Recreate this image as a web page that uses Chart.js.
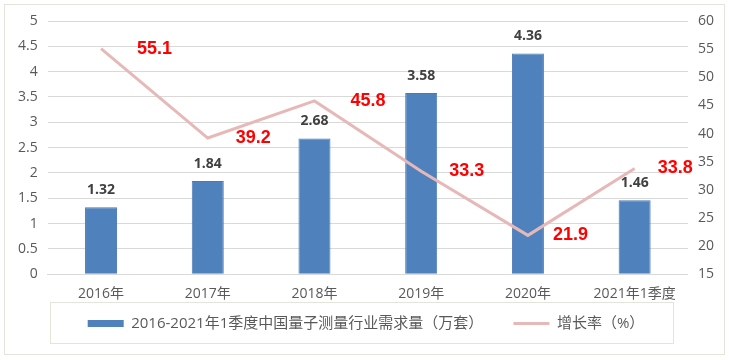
<!DOCTYPE html>
<html>
<head>
<meta charset="utf-8">
<script src="https://cdn.jsdelivr.net/npm/chart.js@4"></script>
<style>
  body { margin: 0; background: #ffffff; }
  #wrap { width: 729px; height: 360px; }
</style>
</head>
<body>
<div id="wrap"><canvas id="chart" width="729" height="360"></canvas></div>
<script>
// categories and series
const categories = ["2016年", "2017年", "2018年", "2019年", "2020年", "2021年1季度"];
const demand = [1.32, 1.84, 2.68, 3.58, 4.36, 1.46];
const growth = [55.1, 39.2, 45.8, 33.3, 21.9, 33.8];
const demandLabel = "2016-2021年1季度中国量子测量行业需求量（万套）";
const growthLabel = "增长率（%）";

// how far right of its point each growth label sits (px)
const growthLabelDx = [36, 28, 36, 28, 25, 23];

const FONT = "'Open Sans', 'Noto Sans CJK SC', sans-serif";

// outer frame + box round the legend
const framePlugin = {
    id: "frame",
    beforeDraw(chart) {
        const ctx = chart.ctx;
        ctx.save();
        ctx.strokeStyle = "#e4e4da";
        ctx.lineWidth = 1;
        ctx.strokeRect(4.5, 4.5, 720, 350);
        ctx.restore();
    },
    afterDraw(chart) {
        const lg = chart.legend;
        const ctx = chart.ctx;
        ctx.save();
        ctx.strokeStyle = "#e4e4da";
        ctx.lineWidth = 1;
        ctx.strokeRect(50.5, lg.top - 2.5, 623, lg.bottom - lg.top + 5);
        ctx.restore();
    }
};

// value labels: bars above, line to the right of each point
const labelPlugin = {
    id: "valueLabels",
    afterDatasetsDraw(chart) {
        const ctx = chart.ctx;
        ctx.save();
        const bars = chart.getDatasetMeta(0).data;
        ctx.font = "bold 14px " + FONT;
        ctx.fillStyle = "#404040";
        ctx.textAlign = "center";
        ctx.textBaseline = "alphabetic";
        bars.forEach((b, i) => ctx.fillText(demand[i].toFixed(2), b.x, b.y - 13));

        const pts = chart.getDatasetMeta(1).data;
        ctx.font = "bold 18px 'Liberation Sans', Arial, sans-serif";
        ctx.fillStyle = "#ff0000";
        ctx.textAlign = "left";
        ctx.textBaseline = "middle";
        pts.forEach((p, i) => ctx.fillText(growth[i].toFixed(1), p.x + growthLabelDx[i], p.y));
        ctx.restore();
    }
};

new Chart(document.getElementById("chart"), {
    data: {
        labels: categories,
        datasets: [
            {
                type: "bar",
                label: demandLabel,
                data: demand,
                yAxisID: "y",
                backgroundColor: "#4f81bd",
                borderColor: "#4a7ab5",
                borderWidth: 1,
                barPercentage: 0.6,
                categoryPercentage: 0.5,
                order: 2
            },
            {
                type: "line",
                label: growthLabel,
                data: growth,
                yAxisID: "y1",
                borderColor: "#e6b9b8",
                backgroundColor: "#e6b9b8",
                borderWidth: 3,
                pointRadius: 0,
                tension: 0,
                order: 1
            }
        ]
    },
    options: {
        responsive: false,
        animation: false,
        layout: { padding: { left: 8, right: 5, top: 21, bottom: 19 } },
        plugins: {
            tooltip: { enabled: false },
            legend: {
                position: "bottom",
                labels: {
                    font: { family: FONT, size: 15 },
                    color: "#595959",
                    usePointStyle: true,
                    pointStyleWidth: 36,
                    boxHeight: 7,
                    padding: 11,
                    generateLabels(chart) {
                        const items = Chart.defaults.plugins.legend.labels.generateLabels(chart);
                        items.sort((a, b) => a.datasetIndex - b.datasetIndex);
                        items[0].pointStyle = "rect";
                        items[0].lineWidth = 0;
                        // wider gap between the two legend entries
                        items[0].text += "\u3000   ";
                        items[1].pointStyle = "line";
                        items[1].lineWidth = 3;
                        items[1].strokeStyle = "#e6b9b8";
                        return items;
                    }
                }
            }
        },
        scales: {
            x: {
                grid: { display: false },
                border: { color: "#d9d9d9" },
                ticks: { font: { family: FONT, size: 14 }, color: "#595959", padding: 3 }
            },
            y: {
                position: "left",
                min: 0,
                max: 5,
                ticks: {
                    stepSize: 0.5,
                    font: { family: FONT, size: 14 },
                    color: "#595959",
                    padding: 10,
                    callback: v => String(v)
                },
                grid: { color: "#d9d9d9", drawTicks: false },
                border: { display: false }
            },
            y1: {
                position: "right",
                min: 15,
                max: 60,
                ticks: { stepSize: 5, font: { family: FONT, size: 14 }, color: "#595959", padding: 10 },
                grid: { display: false, drawTicks: false },
                border: { display: false }
            }
        }
    },
    plugins: [framePlugin, labelPlugin]
});
</script>
</body>
</html>
